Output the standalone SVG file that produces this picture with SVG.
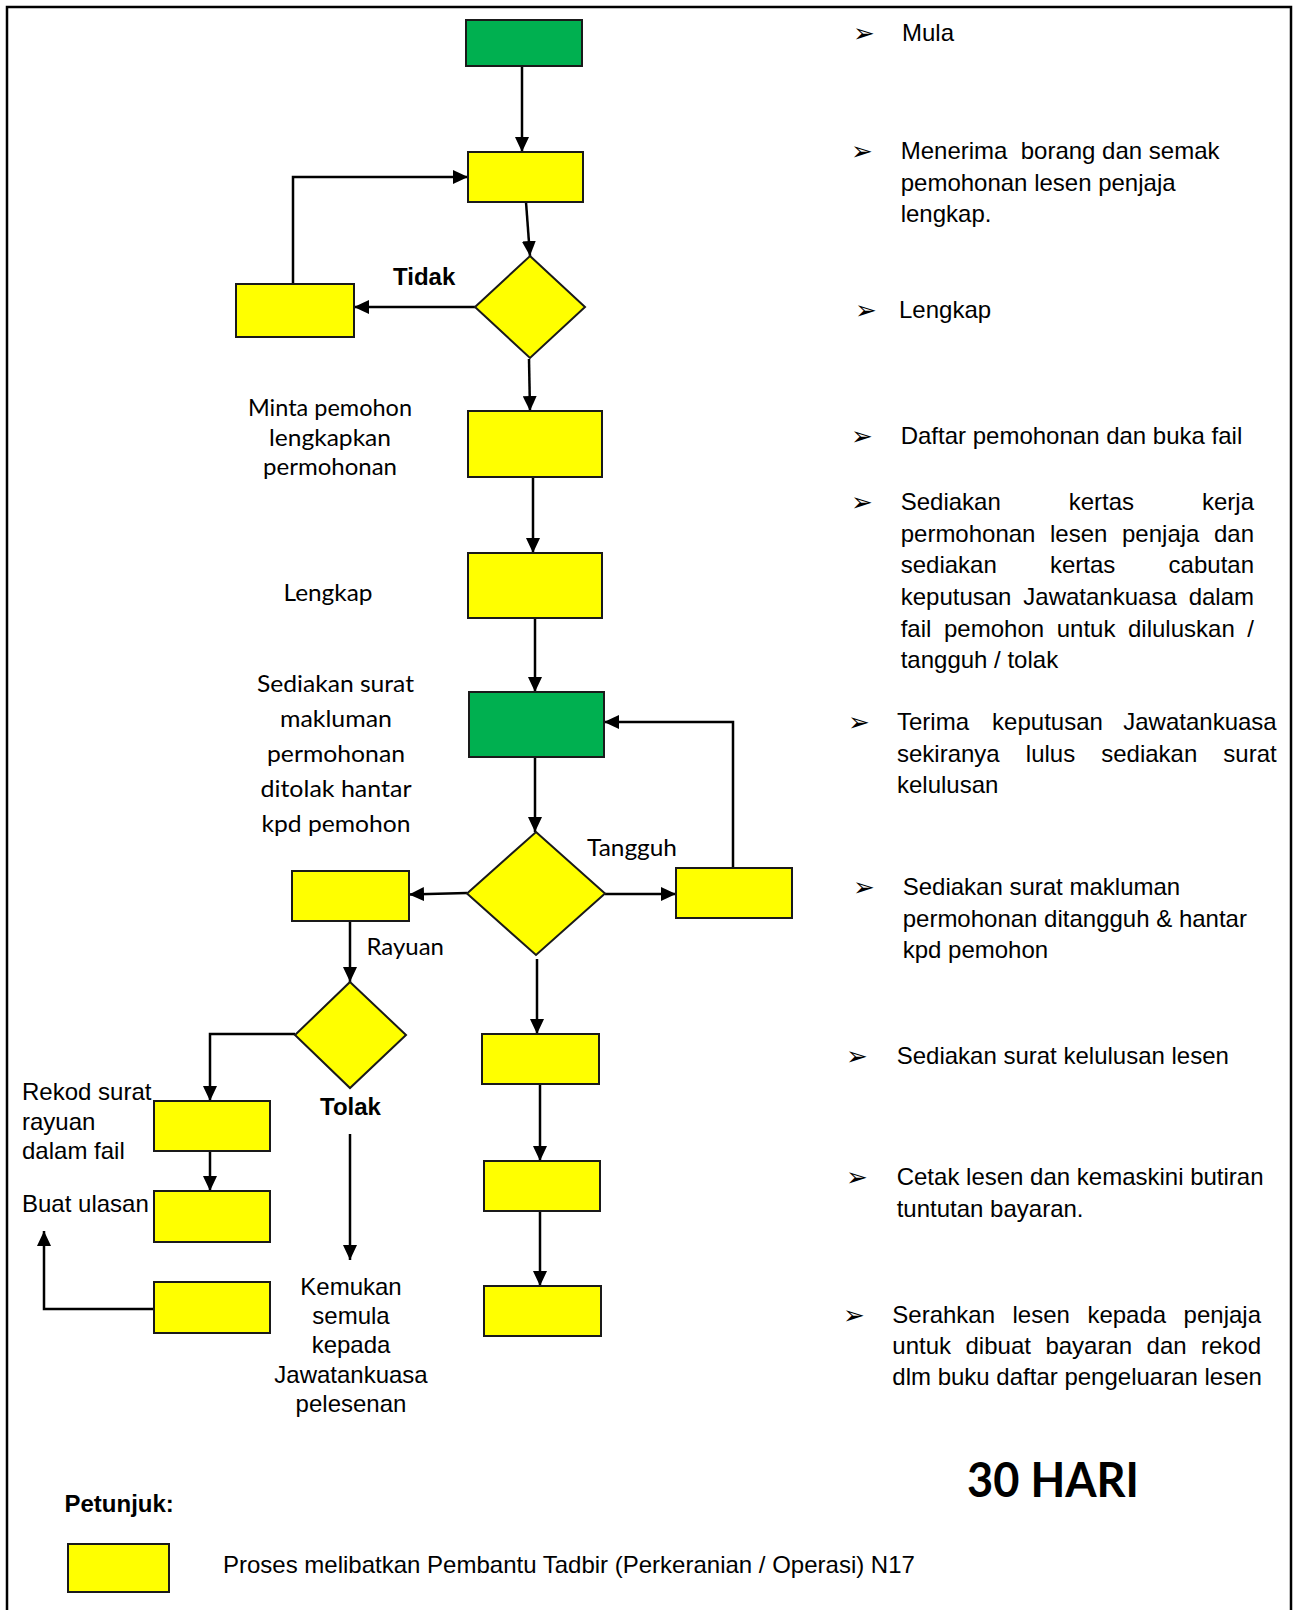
<svg xmlns="http://www.w3.org/2000/svg" width="1295" height="1610" viewBox="0 0 1295 1610">
<defs>
<style>
.y{fill:#FFFF00;stroke:#1a1a1a;stroke-width:2}
.g{fill:#00B050;stroke:#1a1a1a;stroke-width:2}
.c{fill:none;stroke:#000;stroke-width:2.5}
.a{font-family:"Liberation Sans",Arial,sans-serif;font-size:24px;fill:#000}
.e{text-anchor:end}
.ab{font-family:"Liberation Sans",Arial,sans-serif;font-size:24px;font-weight:bold;fill:#000}
.k{font-family:Lato,"Open Sans",sans-serif;font-size:23px;fill:#000}
.bl{font-family:"DejaVu Sans",sans-serif;font-size:26px;fill:#000}
</style>
<marker id="ah" markerWidth="15" markerHeight="14" refX="15" refY="7" orient="auto" markerUnits="userSpaceOnUse">
<path d="M0,0 L15,7 L0,14 z" fill="#000"/>
</marker>
</defs>
<rect width="1295" height="1610" fill="#fff"/>
<rect x="7" y="7" width="1284" height="1700" fill="none" stroke="#000" stroke-width="2.5"/>

<g id="connectors">
<path class="c" d="M522,66 L522,152" marker-end="url(#ah)"/>
<path class="c" d="M526,202 L530,256" marker-end="url(#ah)"/>
<path class="c" d="M475,307 L354,307" marker-end="url(#ah)"/>
<path class="c" d="M293,284 L293,177 L468,177" marker-end="url(#ah)"/>
<path class="c" d="M529,359 L530,411" marker-end="url(#ah)"/>
<path class="c" d="M533,477 L533,553" marker-end="url(#ah)"/>
<path class="c" d="M535,618 L535,692" marker-end="url(#ah)"/>
<path class="c" d="M535,757 L535,832" marker-end="url(#ah)"/>
<path class="c" d="M467,893 L409,894.5" marker-end="url(#ah)"/>
<path class="c" d="M605,894 L676,894" marker-end="url(#ah)"/>
<path class="c" d="M733,868 L733,722 L604,722" marker-end="url(#ah)"/>
<path class="c" d="M350,921 L350,982" marker-end="url(#ah)"/>
<path class="c" d="M295,1034 L210,1034 L210,1101" marker-end="url(#ah)"/>
<path class="c" d="M210,1151 L210,1191" marker-end="url(#ah)"/>
<path class="c" d="M350,1134 L350,1260" marker-end="url(#ah)"/>
<path class="c" d="M154,1309 L44,1309 L44,1231" marker-end="url(#ah)"/>
<path class="c" d="M537,959 L537,1034" marker-end="url(#ah)"/>
<path class="c" d="M540,1084 L540,1161" marker-end="url(#ah)"/>
<path class="c" d="M540,1211 L540,1286" marker-end="url(#ah)"/>
</g>

<g id="n_mula"><rect class="g" x="466" y="20" width="116" height="46"/></g>
<g id="n_terima"><rect class="y" x="468" y="152" width="115" height="50"/></g>
<g id="d_lengkap"><polygon class="y" points="530,256 585,307 530,358 475,307"/></g>
<g id="n_minta"><rect class="y" x="236" y="284" width="118" height="53"/></g>
<g id="n_daftar"><rect class="y" x="468" y="411" width="134" height="66"/></g>
<g id="n_kertas"><rect class="y" x="468" y="553" width="134" height="65"/></g>
<g id="n_keputusan"><rect class="g" x="469" y="692" width="135" height="65"/></g>
<g id="d_keputusan"><polygon class="y" points="536,832 605,893.5 536,955 467,893.5"/></g>
<g id="n_ditolak"><rect class="y" x="292" y="871" width="117" height="50"/></g>
<g id="n_tangguh"><rect class="y" x="676" y="868" width="116" height="50"/></g>
<g id="d_rayuan"><polygon class="y" points="350,982 406,1035 350,1088 295,1035"/></g>
<g id="n_rekod"><rect class="y" x="154" y="1101" width="116" height="50"/></g>
<g id="n_ulasan"><rect class="y" x="154" y="1191" width="116" height="51"/></g>
<g id="n_kemukan"><rect class="y" x="154" y="1282" width="116" height="51"/></g>
<g id="n_lulus"><rect class="y" x="482" y="1034" width="117" height="50"/></g>
<g id="n_cetak"><rect class="y" x="484" y="1161" width="116" height="50"/></g>
<g id="n_serah"><rect class="y" x="484" y="1286" width="117" height="50"/></g>

<g id="labels_left">
<text class="ab" x="393" y="285">Tidak</text>
<text class="k" text-anchor="middle" x="330" y="416" textLength="164" lengthAdjust="spacingAndGlyphs">Minta pemohon</text>
<text class="k" text-anchor="middle" x="330" y="446" textLength="122" lengthAdjust="spacingAndGlyphs">lengkapkan</text>
<text class="k" text-anchor="middle" x="330" y="475" textLength="134" lengthAdjust="spacingAndGlyphs">permohonan</text>
<text class="k" text-anchor="middle" x="328" y="601" textLength="89" lengthAdjust="spacingAndGlyphs">Lengkap</text>
<text class="k" text-anchor="middle" x="335.5" y="692" textLength="157" lengthAdjust="spacingAndGlyphs">Sediakan surat</text>
<text class="k" text-anchor="middle" x="336" y="727" textLength="112" lengthAdjust="spacingAndGlyphs">makluman</text>
<text class="k" text-anchor="middle" x="336" y="762" textLength="138" lengthAdjust="spacingAndGlyphs">permohonan</text>
<text class="k" text-anchor="middle" x="336" y="797" textLength="151" lengthAdjust="spacingAndGlyphs">ditolak hantar</text>
<text class="k" text-anchor="middle" x="336" y="832" textLength="149" lengthAdjust="spacingAndGlyphs">kpd pemohon</text>
<text class="k" x="587" y="856" textLength="90" lengthAdjust="spacingAndGlyphs">Tangguh</text>
<text class="k" x="366.5" y="955" textLength="77.5" lengthAdjust="spacingAndGlyphs">Rayuan</text>
<text class="a" x="22" y="1100">Rekod surat</text>
<text class="a" x="22" y="1130">rayuan</text>
<text class="a" x="22" y="1159">dalam fail</text>
<text class="a" x="22" y="1212">Buat ulasan</text>
<text class="ab" x="320" y="1115">Tolak</text>
<text class="a" text-anchor="middle" x="351" y="1295">Kemukan</text>
<text class="a" text-anchor="middle" x="351" y="1324">semula</text>
<text class="a" text-anchor="middle" x="351" y="1353">kepada</text>
<text class="a" text-anchor="middle" x="351" y="1383">Jawatankuasa</text>
<text class="a" text-anchor="middle" x="351" y="1412">pelesenan</text>
</g>

<g id="steps_right">
<text class="bl" x="853" y="42">➢</text>
<text class="a" x="902" y="41">Mula</text>

<text class="bl" x="851" y="160">➢</text>
<text class="a" x="900.7" y="159" xml:space="preserve">Menerima  borang dan semak</text>
<text class="a" x="900.7" y="191">pemohonan lesen penjaja</text>
<text class="a" x="900.7" y="222">lengkap.</text>

<text class="bl" x="855" y="319">➢</text>
<text class="a" x="899" y="318">Lengkap</text>

<text class="bl" x="851" y="445">➢</text>
<text class="a" x="900.7" y="444">Daftar pemohonan dan buka fail</text>

<text class="bl" x="851" y="511">➢</text>
<text class="a" x="900.7" y="510">Sediakan</text><text class="a" x="1068.7" y="510">kertas</text><text class="a e" x="1254" y="510">kerja</text>
<text class="a" x="900.7" y="541.5">permohonan</text><text class="a" x="1050" y="541.5">lesen</text><text class="a" x="1122" y="541.5">penjaja</text><text class="a e" x="1254" y="541.5">dan</text>
<text class="a" x="900.7" y="573">sediakan</text><text class="a" x="1050" y="573">kertas</text><text class="a e" x="1254" y="573">cabutan</text>
<text class="a" x="900.7" y="605">keputusan</text><text class="a" x="1023.3" y="605">Jawatankuasa</text><text class="a e" x="1254" y="605">dalam</text>
<text class="a" x="900.7" y="637">fail</text><text class="a" x="944" y="637">pemohon</text><text class="a" x="1056.7" y="637">untuk</text><text class="a" x="1128" y="637">diluluskan</text><text class="a e" x="1254" y="637">/</text>
<text class="a" x="900.7" y="668">tangguh / tolak</text>

<text class="bl" x="848" y="731">➢</text>
<text class="a" x="897" y="730">Terima</text><text class="a" x="992.1" y="730">keputusan</text><text class="a e" x="1276.7" y="730">Jawatankuasa</text>
<text class="a" x="897" y="762">sekiranya</text><text class="a" x="1025.8" y="762">lulus</text><text class="a" x="1101.2" y="762">sediakan</text><text class="a e" x="1276.7" y="762">surat</text>
<text class="a" x="897" y="793">kelulusan</text>

<text class="bl" x="853" y="896">➢</text>
<text class="a" x="902.7" y="895">Sediakan surat makluman</text>
<text class="a" x="902.7" y="927">permohonan ditangguh &amp; hantar</text>
<text class="a" x="902.7" y="958">kpd pemohon</text>

<text class="bl" x="846" y="1064.5">➢</text>
<text class="a" x="896.7" y="1063.5">Sediakan surat kelulusan lesen</text>

<text class="bl" x="846" y="1186">➢</text>
<text class="a" x="896.7" y="1185">Cetak lesen dan kemaskini butiran</text>
<text class="a" x="896.7" y="1216.5">tuntutan bayaran.</text>

<text class="bl" x="843" y="1324">➢</text>
<text class="a" x="892.3" y="1323">Serahkan</text><text class="a" x="1012.5" y="1323">lesen</text><text class="a" x="1087.4" y="1323">kepada</text><text class="a e" x="1261" y="1323">penjaja</text>
<text class="a" x="892.3" y="1354">untuk</text><text class="a" x="965.5" y="1354">dibuat</text><text class="a" x="1045.4" y="1354">bayaran</text><text class="a" x="1146.6" y="1354">dan</text><text class="a e" x="1261" y="1354">rekod</text>
<text class="a" x="892.3" y="1385">dlm buku daftar pengeluaran lesen</text>
</g>

<g id="footer">
<text x="967" y="1497" font-family="Lato,'Open Sans',sans-serif" font-weight="bold" font-size="47" textLength="172" lengthAdjust="spacingAndGlyphs">30 HARI</text>
<text class="ab" x="64.5" y="1512">Petunjuk:</text>
<g id="legend_box"><rect class="y" x="68" y="1544" width="101" height="48"/></g>
<text class="a" x="223" y="1573">Proses melibatkan Pembantu Tadbir (Perkeranian / Operasi) N17</text>
</g>
</svg>
